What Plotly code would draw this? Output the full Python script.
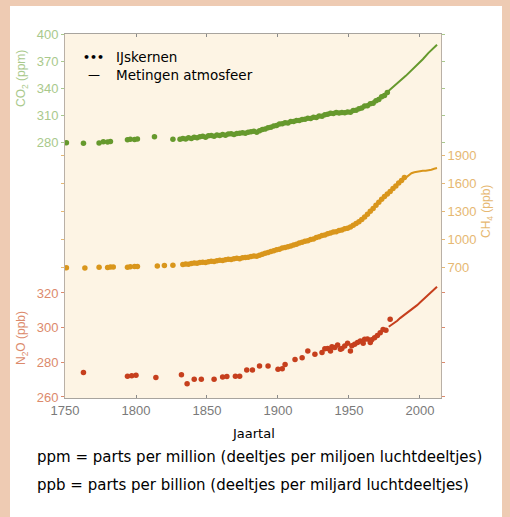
import plotly.graph_objects as go

# ---------------- data ----------------
co2_ice_years = [1751, 1763, 1774, 1777, 1780, 1782, 1794, 1796, 1799, 1801, 1813, 1826,
                 1831, 1833, 1835, 1837, 1839, 1841, 1843, 1845, 1847, 1849, 1851, 1853, 1855,
                 1857, 1859, 1861, 1863, 1865, 1867, 1869, 1871, 1873, 1875, 1877, 1879, 1881,
                 1883, 1885, 1887, 1889, 1891, 1893, 1895, 1897, 1899, 1901, 1903, 1905, 1907,
                 1909, 1911, 1913, 1915, 1917, 1919, 1921, 1923, 1925, 1927, 1929, 1931, 1933,
                 1935, 1937, 1939, 1941, 1943, 1945, 1947, 1949, 1951, 1953, 1955, 1957, 1959,
                 1961, 1963, 1965, 1967, 1969, 1971, 1973, 1975, 1977]
co2_ice_ppm = [279.2, 278.5, 279.0, 280.4, 280.0, 280.6, 282.6, 283.2, 282.8, 283.4, 285.9, 283.0,
               283.0, 284.0, 283.3, 284.6, 284.0, 285.3, 284.6, 285.8, 286.4, 285.4, 286.9, 287.3, 286.4,
               287.9, 287.2, 288.4, 287.5, 288.9, 289.3, 288.4, 289.4, 289.8, 290.4, 289.6, 290.9, 291.4,
               291.9, 290.9, 292.4, 293.8, 294.4, 295.9, 296.4, 297.9, 298.3, 299.9, 300.4, 301.4, 301.2,
               302.9, 302.7, 303.9, 303.8, 304.9, 305.2, 306.4, 306.2, 307.4, 307.3, 308.9, 308.7, 310.4,
               310.8, 311.9, 311.7, 312.9, 312.2, 312.9, 312.6, 313.4, 313.2, 314.9, 315.2, 316.9, 317.7,
               319.9, 320.2, 322.4, 323.2, 325.9, 327.2, 330.4, 331.7, 334.9]
co2_meas_years = [1958, 1962, 1966, 1970, 1974, 1978, 1982, 1986, 1990, 1994, 1998, 2002, 2006, 2010, 2012]
co2_meas_ppm = [316.0, 320.0, 323.5, 328.0, 332.0, 337.0, 342.0, 348.0, 353.5, 359.5, 365.5, 372.0, 379.0, 385.0, 388.0]

ch4_ice_years = [1751, 1764, 1774, 1780, 1782, 1784, 1794, 1796, 1799, 1801, 1815, 1820, 1826,
                 1833, 1835, 1837, 1839, 1841, 1843, 1845, 1847, 1849, 1851, 1853, 1855, 1857,
                 1859, 1861, 1863, 1865, 1867, 1869, 1871, 1873, 1875, 1877, 1879, 1881, 1883,
                 1885, 1887, 1889, 1891, 1893, 1895, 1897, 1899, 1901, 1903, 1905, 1907, 1909,
                 1911, 1913, 1915, 1917, 1919, 1921, 1923, 1925, 1927, 1929, 1931, 1933, 1935,
                 1937, 1939, 1941, 1943, 1945, 1947, 1949, 1951, 1953, 1955, 1957, 1959, 1961,
                 1963, 1965, 1967, 1969, 1971, 1973, 1975, 1977, 1979, 1981, 1983, 1985, 1987, 1989]
ch4_ice_ppb = [692, 690, 698, 695, 699, 701, 698, 702, 704, 706, 712, 716, 720,
               726, 733, 729, 738, 742, 739, 748, 752, 749, 757, 762, 759, 768,
               772, 769, 778, 783, 779, 788, 793, 789, 798, 803, 805, 812, 818,
               814, 826, 836, 846, 856, 866, 874, 884, 890, 903, 908, 918, 924,
               936, 944, 956, 964, 976, 982, 994, 1001, 1016, 1024, 1037, 1044, 1057,
               1063, 1074, 1078, 1092, 1097, 1110, 1116, 1128, 1146, 1165, 1186, 1210, 1236,
               1264, 1296, 1328, 1362, 1394, 1426, 1454, 1481, 1508, 1541, 1568, 1601, 1628, 1660]
ch4_meas_years = [1984, 1986, 1988, 1990, 1992, 1994, 1996, 1998, 2000, 2002, 2004, 2006, 2008, 2010, 2012]
ch4_meas_ppb = [1585, 1610, 1640, 1665, 1690, 1705, 1715, 1722, 1728, 1730, 1732, 1734, 1742, 1752, 1760]

n2o_ice_years = [1763, 1794, 1797, 1800, 1814, 1832, 1836, 1841, 1846, 1855, 1861, 1864, 1870,
                 1873, 1878, 1882, 1887, 1893, 1900, 1903, 1905, 1912, 1917, 1921, 1926, 1931,
                 1933, 1935, 1937, 1938, 1940, 1942, 1944, 1945, 1947, 1949, 1951, 1952, 1954,
                 1956, 1958, 1960, 1961, 1963, 1965, 1966, 1968, 1970, 1972, 1974, 1976, 1979]
n2o_ice_ppb = [274.1, 272.0, 272.3, 272.5, 271.2, 272.9, 267.7, 270.2, 270.2, 270.2, 271.5, 271.8, 272.0,
               272.0, 275.6, 275.6, 277.9, 277.9, 276.0, 276.3, 278.8, 281.7, 282.7, 286.5, 284.6, 285.6,
               287.9, 288.0, 286.5, 289.0, 288.5, 290.0, 287.5, 288.0, 289.4, 291.0, 286.5, 289.5, 290.4,
               291.5, 292.3, 291.0, 293.3, 293.5, 291.4, 293.0, 294.2, 295.5, 297.1, 299.0, 298.5, 304.8]
n2o_meas_years = [1978, 1980, 1982, 1984, 1986, 1988, 1990, 1992, 1994, 1996, 1998, 2000, 2002, 2004, 2006, 2008, 2010, 2012]
n2o_meas_ppb = [300.5, 301.5, 302.5, 304.0, 305.5, 306.7, 308.0, 309.5, 310.7, 312.0, 313.0, 314.5, 316.0, 317.5, 319.0, 320.5, 322.0, 323.6]

x_ticks = [1750, 1800, 1850, 1900, 1950, 2000]
co2_ticks = [280, 310, 340, 370, 400]
ch4_ticks = [700, 1000, 1300, 1600, 1900]
n2o_ticks = [260, 280, 300, 320]

# ---------------- styles ----------------
GREEN, GREEN_T = "#66992d", "#a9c98c"
GOLD, GOLD_T = "#d9961c", "#e6b872"
RED, RED_T = "#c63f1d", "#dc8a6c"
TICKFONT = "Liberation Sans Narrow, Liberation Sans, Arial"
TEXTFONT = "DejaVu Sans, Open Sans, sans-serif"

fig = go.Figure()
fig.add_trace(go.Scatter(x=n2o_ice_years, y=n2o_ice_ppb, mode="markers", yaxis="y",
                         marker=dict(color=RED, size=5.5), showlegend=False))
fig.add_trace(go.Scatter(x=n2o_meas_years, y=n2o_meas_ppb, mode="lines", yaxis="y",
                         line=dict(color=RED, width=2), showlegend=False))
fig.add_trace(go.Scatter(x=ch4_ice_years, y=ch4_ice_ppb, mode="markers", yaxis="y2",
                         marker=dict(color=GOLD, size=5.5), showlegend=False))
fig.add_trace(go.Scatter(x=ch4_meas_years, y=ch4_meas_ppb, mode="lines", yaxis="y2",
                         line=dict(color=GOLD, width=2), showlegend=False))
fig.add_trace(go.Scatter(x=co2_ice_years, y=co2_ice_ppm, mode="markers", yaxis="y3",
                         marker=dict(color=GREEN, size=5.5), showlegend=False))
fig.add_trace(go.Scatter(x=co2_meas_years, y=co2_meas_ppm, mode="lines", yaxis="y3",
                         line=dict(color=GREEN, width=2), showlegend=False))

L, R, T, B = 65, 69, 34, 119
W, H = 510, 517
PW, PH = W - L - R, H - T - B


def px(xp):
    return (xp - L) / PW


def py(yp):
    return (H - B - yp) / PH


common_y = dict(showgrid=False, zeroline=False, ticks="outside", ticklen=3, tickwidth=1)

fig.update_layout(
    width=W, height=H,
    margin=dict(l=L, r=R, t=T, b=B),
    paper_bgcolor="white",
    plot_bgcolor="#fdf4e4",
    showlegend=False,
    xaxis=dict(range=[1750, 2014.8], tickvals=x_ticks, showgrid=False, zeroline=False,
               showline=True, linecolor="#a8a49e", linewidth=1, mirror="ticks",
               ticks="inside", ticklen=3, tickcolor="#8a8a8a",
               tickfont=dict(family=TICKFONT, size=13, color="#7a7a7a")),
    yaxis=dict(range=[259.42, 469.4], tickvals=n2o_ticks, side="left",
               showline=True, linecolor="#b9b0a6", linewidth=1, mirror="ticks",
               tickcolor=RED_T, tickfont=dict(family=TICKFONT, size=13, color=RED_T), **common_y),
    yaxis2=dict(range=[-703.6, 3196.4], tickvals=ch4_ticks, side="right", overlaying="y", anchor="x",
                showline=False, mirror="ticks",
                tickcolor=GOLD_T, tickfont=dict(family=TICKFONT, size=13, color=GOLD_T), **common_y),
    yaxis3=dict(range=[-4.4, 400], tickvals=co2_ticks, side="left", overlaying="y", anchor="x",
                showline=False, mirror="ticks",
                tickcolor=GREEN_T, tickfont=dict(family=TICKFONT, size=13, color=GREEN_T), **common_y),
)

# outer peach frame
PEACH = "#eecbb3"
for (x0, x1, y0, y1) in [(0, 10, 0, H), (502, W, 0, H), (0, W, 0, 6)]:
    fig.add_shape(type="rect", xref="paper", yref="paper", layer="above",
                  x0=px(x0), x1=px(x1), y0=py(y1), y1=py(y0),
                  fillcolor=PEACH, line=dict(width=0))


def note(text, x, y, size, color, family=TEXTFONT, xanchor="center", angle=0):
    fig.add_annotation(text=text, x=px(x), y=py(y), xref="paper", yref="paper",
                       xanchor=xanchor, yanchor="middle", textangle=angle, showarrow=False,
                       font=dict(family=family, size=size, color=color))


# axis titles
note("CO<sub>2</sub> (ppm)", 22, 79, 12, GREEN_T, TICKFONT, angle=-90)
note("CH<sub>4</sub> (ppb)", 487, 212, 12, GOLD_T, TICKFONT, angle=-90)
note("N<sub>2</sub>O (ppb)", 22, 338, 12, RED_T, TICKFONT, angle=-90)

# legend
note("<b>•••</b>", 93.5, 57, 11, "black")
note("—", 93.5, 75, 12, "black")
note("IJskernen", 114, 57, 13.5, "black", xanchor="left")
note("Metingen atmosfeer", 114, 75, 13.5, "black", xanchor="left")

# x title and footnotes
note("Jaartal", 253, 433, 13, "black")
note("ppm = parts per million (deeltjes per miljoen luchtdeeltjes)", 35, 457, 15, "black", xanchor="left")
note("ppb = parts per billion (deeltjes per miljard luchtdeeltjes)", 35, 485, 15, "black", xanchor="left")

fig.write_html("out.html")
